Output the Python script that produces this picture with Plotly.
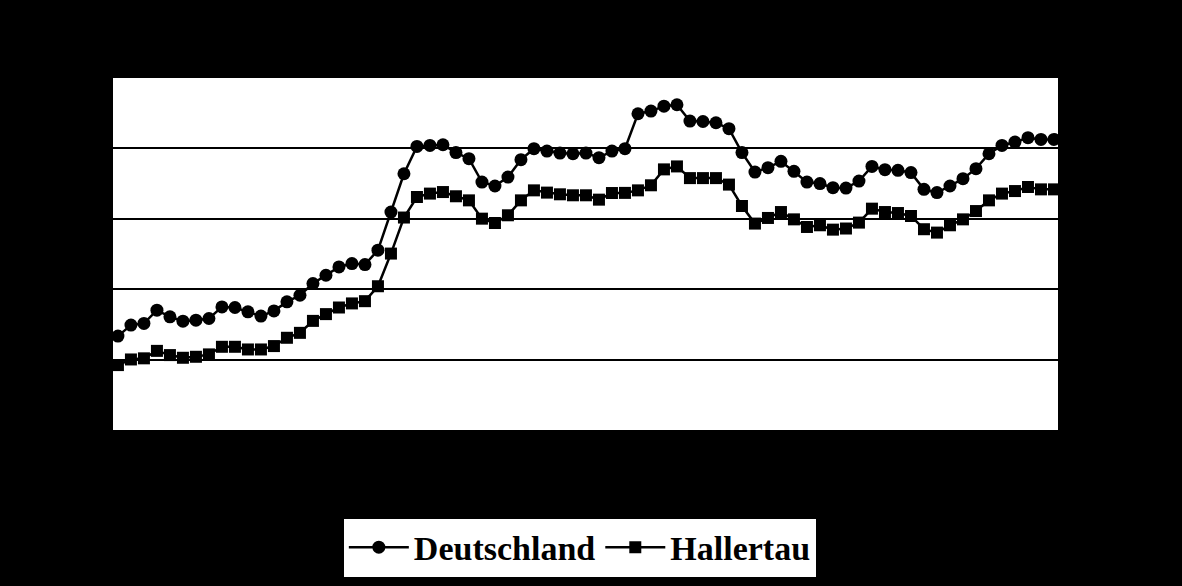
import plotly.graph_objects as go

periods = list(range(73))

deutschland = [66.7, 74.5, 75.7, 85.1, 80.4, 77.3, 78.0, 79.2, 87.4, 87.0,
               83.9, 80.9, 84.6, 91.0, 95.7, 104.0, 109.9, 115.8, 118.2, 117.5,
               127.7, 154.8, 182.0, 201.4, 202.1, 202.6, 197.0, 192.7, 176.1, 173.3,
               179.6, 192.0, 199.8, 198.1, 196.7, 196.2, 196.7, 193.4, 198.1, 199.8,
               224.6, 226.5, 230.0, 231.0, 219.4, 219.1, 218.2, 214.0, 197.0, 183.2,
               186.3, 190.8, 183.7, 176.1, 175.0, 172.1, 171.8, 176.8, 187.2, 184.9,
               184.4, 182.8, 170.9, 168.6, 173.3, 178.5, 185.6, 196.2, 202.1, 204.5,
               207.6, 206.4, 206.4]

hallertau = [46.1, 50.1, 50.9, 56.2, 53.2, 51.3, 52.0, 53.7, 59.1, 59.1,
             57.2, 57.2, 59.6, 65.5, 69.0, 77.5, 82.3, 87.0, 89.9, 91.5,
             102.1, 125.3, 150.9, 165.5, 167.9, 169.0, 166.0, 163.1, 150.1, 147.0,
             152.5, 163.1, 170.2, 168.6, 167.4, 166.7, 166.7, 163.6, 168.3, 168.4,
             170.2, 173.8, 185.1, 187.2, 178.9, 178.9, 178.9, 174.3, 159.1, 146.6,
             150.6, 154.8, 149.6, 144.2, 145.4, 142.3, 143.1, 147.3, 157.2, 154.8,
             154.1, 152.0, 142.6, 140.2, 145.4, 149.6, 155.5, 163.1, 167.9, 169.7,
             172.6, 170.9, 170.9]

fig = go.Figure()
fig.add_trace(go.Scatter(
    x=periods, y=deutschland, name="Deutschland", mode="lines+markers",
    line=dict(color="black", width=2.5),
    marker=dict(symbol="circle", size=13, color="black"),
))
fig.add_trace(go.Scatter(
    x=periods, y=hallertau, name="Hallertau", mode="lines+markers",
    line=dict(color="black", width=2.5),
    marker=dict(symbol="square", size=12, color="black"),
))

fig.update_layout(
    width=1182, height=586,
    paper_bgcolor="black", plot_bgcolor="white",
    margin=dict(l=113, r=124, t=78, b=156, autoexpand=False),
    showlegend=True,
    legend=dict(
        orientation="h", x=0.494, y=-0.334, xanchor="center", yanchor="middle",
        bgcolor="white", borderwidth=0, itemwidth=60,
        font=dict(family="Liberation Serif", size=34, color="black", weight="bold"),
        itemsizing="trace",
    ),
    xaxis=dict(range=[-0.38, 72.31], showgrid=False, showticklabels=False,
               zeroline=False, showline=False, ticks=""),
    yaxis=dict(range=[0, 250], dtick=50, showgrid=True, gridcolor="black",
               gridwidth=2, showticklabels=False, zeroline=False,
               showline=True, linecolor="black", linewidth=1, ticks=""),
)

fig.write_html(
    "out.html",
    config={"displayModeBar": False},
    post_script=(
        "document.documentElement.style.background='black';"
        "document.body.style.margin='0';"
        "document.body.style.background='black';"
        "document.body.style.overflow='hidden';"
    ),
)
